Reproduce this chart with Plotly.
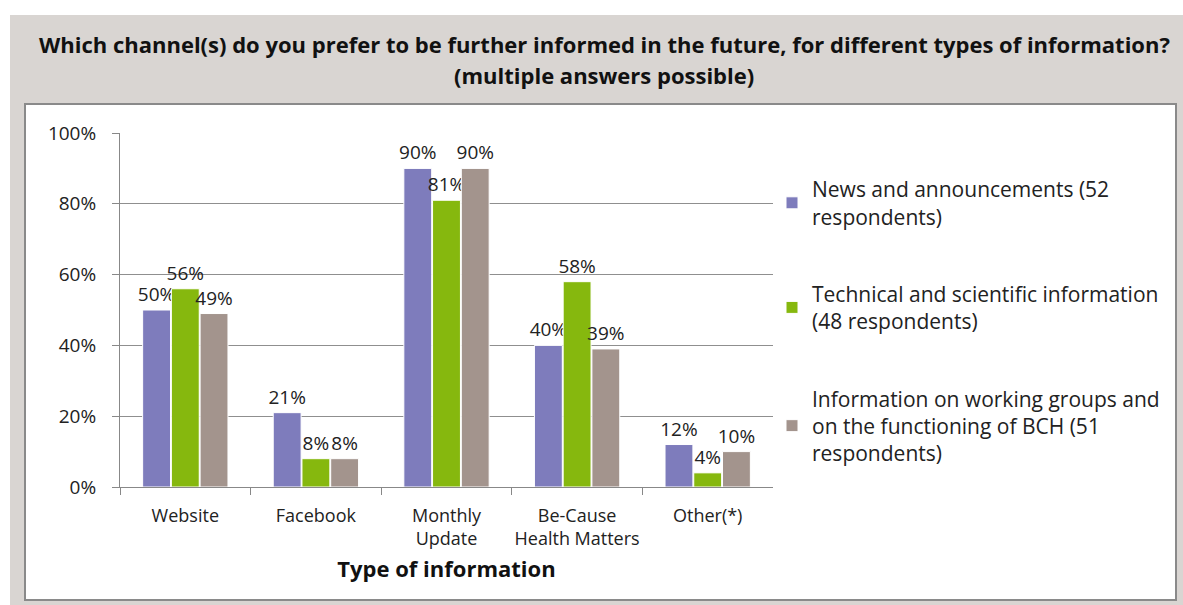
import plotly.graph_objects as go

categories = ["Website", "Facebook", "Monthly<br>Update", "Be-Cause<br>Health Matters", "Other(*)"]
series_names = [
    "News and announcements (52<br>respondents)",
    "Technical and scientific information<br>(48 respondents)",
    "Information on working groups and<br>on the functioning of BCH (51<br>respondents)",
]
news = [0.50, 0.21, 0.90, 0.40, 0.12]
technical = [0.56, 0.08, 0.81, 0.58, 0.04]
working = [0.49, 0.08, 0.90, 0.39, 0.10]
colors = ["#7e7cbc", "#86b80e", "#a3948d"]

W, H = 1183, 605
FONT = "Open Sans"

fig = go.Figure()
for i, (name, vals) in enumerate(zip(series_names, [news, technical, working])):
    fig.add_trace(go.Bar(
        x=categories, y=vals, name=name,
        marker=dict(color=colors[i], line=dict(color="white", width=1)),
        text=[f"{round(v*100)}%" for v in vals],
        textposition="outside", constraintext="none", cliponaxis=False,
        textfont=dict(family=FONT, size=19, color="#222"),
        legendgroup=f"g{i}",
    ))

x0, x1 = 120, 773
y_bot, y_top = 487, 133

fig.update_layout(
    width=W, height=H,
    margin=dict(l=0, r=0, t=0, b=0),
    paper_bgcolor="white", plot_bgcolor="rgba(0,0,0,0)",
    barmode="group", bargap=0.34, bargroupgap=0.03,
    font=dict(family=FONT, color="#222"),
    showlegend=True,
    legend=dict(
        x=772 / W, y=1 - 169 / H, xanchor="left", yanchor="top",
        font=dict(family=FONT, size=21, color="#222"),
        tracegroupgap=47, bgcolor="rgba(0,0,0,0)", itemwidth=30,
    ),
    xaxis=dict(
        domain=[x0 / W, x1 / W], automargin=False,
        tickson="boundaries", ticks="outside", ticklen=7, tickcolor="#888",
        showline=True, linecolor="#888", linewidth=1,
        tickangle=0, ticklabelstandoff=12,
        tickfont=dict(family=FONT, size=18, color="#222"),
        title=dict(text="<b>Type of information</b>", font=dict(family=FONT, size=22, color="#111"), standoff=12),
    ),
    yaxis=dict(
        domain=[1 - y_bot / H, 1 - y_top / H], automargin=False,
        range=[0, 1], tickvals=[0, 0.2, 0.4, 0.6, 0.8, 1.0],
        tickformat=".0%", ticks="outside", ticklen=7, tickcolor="#888",
        showline=True, linecolor="#888", linewidth=1,
        showgrid=True, gridcolor="#8f8f8f", gridwidth=1,
        ticklabelstandoff=12,
        tickfont=dict(family=FONT, size=19, color="#222"),
        zeroline=False,
    ),
    shapes=[
        dict(type="rect", xref="paper", yref="paper", x0=10 / W, x1=1, y0=0, y1=1 - 15 / H,
             fillcolor="#d9d5d2", line=dict(width=0), layer="below"),
        dict(type="rect", xref="paper", yref="paper", x0=25 / W, x1=1176 / W, y0=1 - 600 / H, y1=1 - 104 / H,
             fillcolor="white", line=dict(color="#8a8a8a", width=2), layer="below"),
    ],
    annotations=[
        dict(text="<b>Which channel(s) do you prefer to be further informed in the future, for different types of information?</b>",
             xref="paper", yref="paper", x=604 / W, y=1 - 44 / H, xanchor="center", yanchor="middle",
             showarrow=False, font=dict(family=FONT, size=22, color="#111")),
        dict(text="<b>(multiple answers possible)</b>",
             xref="paper", yref="paper", x=604 / W, y=1 - 75 / H, xanchor="center", yanchor="middle",
             showarrow=False, font=dict(family=FONT, size=22, color="#111")),
    ],
)

fig.write_html("out.html", config={"displayModeBar": False},
               post_script="document.body.style.margin='0';document.body.style.overflow='hidden';")
